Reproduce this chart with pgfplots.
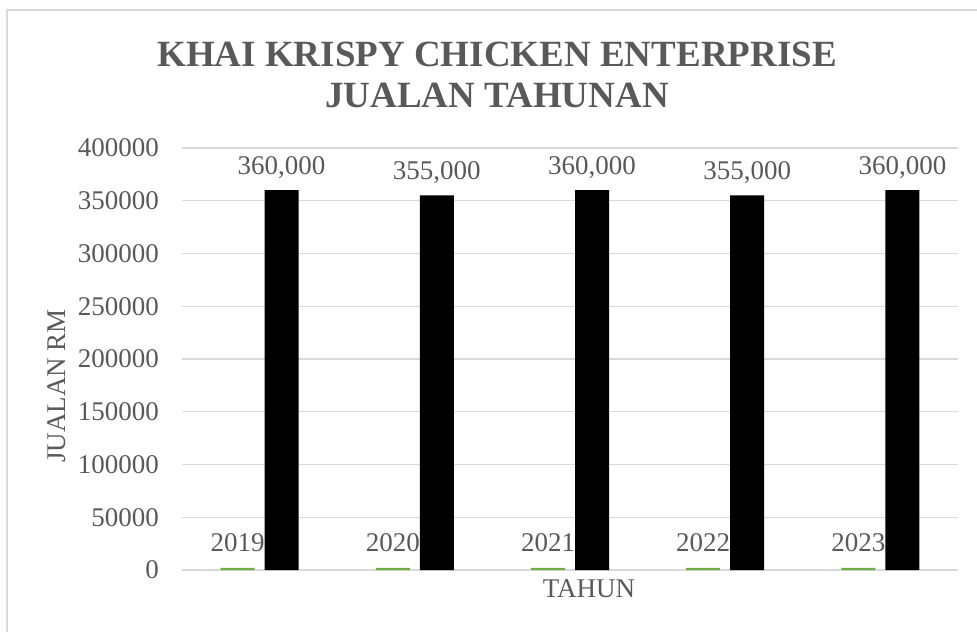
\documentclass[border=0pt]{standalone}
\usepackage{pgfplots}
\pgfplotsset{compat=1.18}
\usepackage{fontspec}
\setmainfont{Liberation Serif}
\definecolor{txt}{HTML}{595959}
\definecolor{gridc}{HTML}{D9D9D9}
\definecolor{barg}{HTML}{70AD47}
\begin{document}
\begin{tikzpicture}
\useasboundingbox (0,0) rectangle (977pt,632pt);
\draw[gridc, line width=1.2pt] (7pt,0pt) -- (7pt,622pt) -- (977pt,622pt);
\begin{axis}[
  at={(182pt,62pt)}, anchor=south west,
  scale only axis, width=776pt, height=422pt,
  xmin=0.5, xmax=5.5, ymin=0, ymax=400000,
  xtick=\empty,
  ytick={0,50000,...,400000},
  scaled y ticks=false,
  yticklabel={\pgfmathprintnumber[fixed,1000 sep={},assume math mode=true]{\tick}},
  yticklabel style={anchor=east, inner sep=0pt, xshift=-23pt, font=\fontsize{27}{32}\selectfont, text=txt},
  major tick length=0pt,
  axis line style={draw=none},
  ymajorgrids, grid style={gridc, line width=1.2pt},
  xlabel={TAHUN},
  xlabel style={at={(axis description cs:0.5245,-0.064)}, anchor=base, inner sep=0pt, font=\fontsize{27}{32}\selectfont, text=txt},
  ylabel={JUALAN RM},
  ylabel style={at={(axis description cs:-0.161,0.436)}, anchor=center, rotate=0, inner sep=0pt, font=\fontsize{27}{32}\selectfont, text=txt},
  clip=false,
]
\addplot[ybar, bar width=34pt, bar shift=-22pt, fill=barg, draw=none,
  nodes near coords={\pgfmathprintnumber[fixed,1000 sep={},assume math mode=true]{\pgfplotspointmeta}},
  nodes near coords style={anchor=base, inner sep=0pt, xshift=-22pt, yshift=16pt, font=\fontsize{27}{32}\selectfont, text=txt}]
  coordinates {(1,2019) (2,2020) (3,2021) (4,2022) (5,2023)};
\addplot[ybar, bar width=34pt, bar shift=22pt, fill=black, draw=none,
  nodes near coords={\pgfmathprintnumber[fixed,1000 sep={,},assume math mode=true]{\pgfplotspointmeta}},
  nodes near coords style={anchor=base, inner sep=0pt, xshift=22pt, yshift=16pt, font=\fontsize{27}{32}\selectfont, text=txt}]
  coordinates {(1,360000) (2,355000) (3,360000) (4,355000) (5,360000)};
\node[anchor=base, inner sep=0pt, text=txt, font=\fontsize{37}{42}\selectfont\bfseries] at (axis description cs:0.406,1.1943) {KHAI KRISPY CHICKEN ENTERPRISE};
\node[anchor=base, inner sep=0pt, text=txt, font=\fontsize{37}{42}\selectfont\bfseries] at (axis description cs:0.406,1.0948) {JUALAN TAHUNAN};
\end{axis}
\end{tikzpicture}
\end{document}
